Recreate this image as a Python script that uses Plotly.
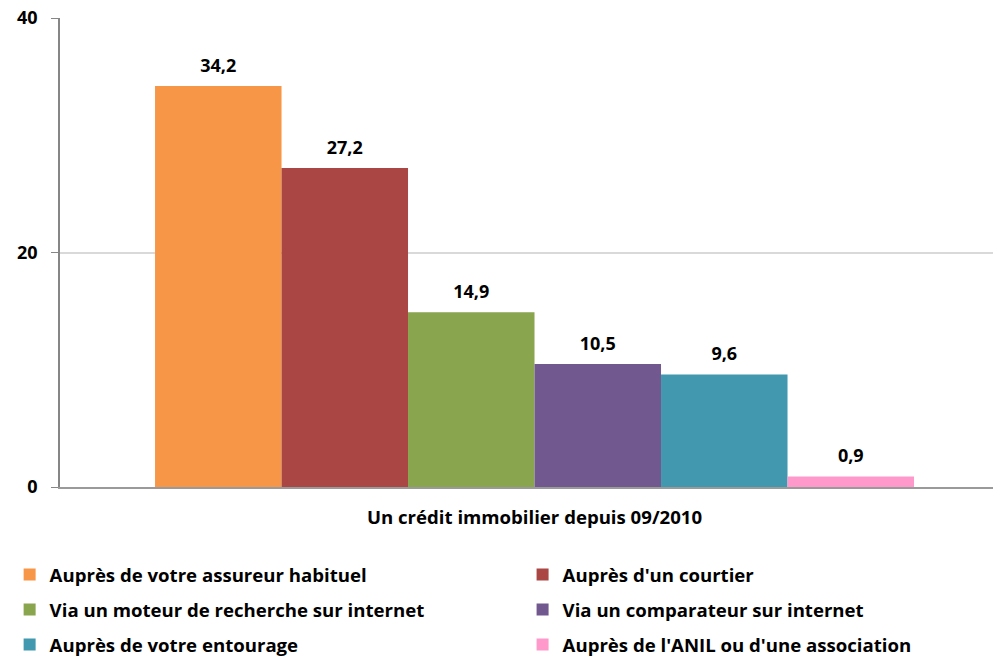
import plotly.graph_objects as go

categorie = ["Un crédit immobilier depuis 09/2010"]
series = [
    "Auprès de votre assureur habituel",
    "Auprès d'un courtier",
    "Via un moteur de recherche sur internet",
    "Via un comparateur sur internet",
    "Auprès de votre entourage",
    "Auprès de l'ANIL ou d'une association",
]
valeurs = [34.2, 27.2, 14.9, 10.5, 9.6, 0.9]
couleurs = ["#F79646", "#AA4643", "#89A54E", "#71588F", "#4198AF", "#FF99CC"]

police = "Open Sans"
gras = dict(family=police, size=18, color="#000000", weight="bold")
gras_large = dict(gras, size=18.6)

fig = go.Figure()
for i, (nom, v, c) in enumerate(zip(series, valeurs, couleurs)):
    fig.add_trace(go.Bar(
        x=categorie, y=[v], name=nom, marker=dict(color=c, line=dict(width=0)),
        legend="legend" if i == 0 else "legend%d" % (i + 1),
    ))
# étiquettes de valeurs, placées au-dessus de chaque barre
for v in valeurs:
    fig.add_trace(go.Scatter(
        x=categorie, y=[v], mode="markers+text", texttemplate="%{y:.1f}",
        textposition="top center", textfont=gras, cliponaxis=False,
        marker=dict(size=14, opacity=0), showlegend=False, hoverinfo="skip",
    ))

# (colonne, ligne) de chaque entrée de légende
cols_x = [-0.054, 0.4958]
rows_y = [-0.1876, -0.2623, -0.3369]
legs = {}
for i in range(6):
    key = "legend" if i == 0 else "legend%d" % (i + 1)
    legs[key] = dict(orientation="h", x=cols_x[i % 2], y=rows_y[i // 2],
                     xanchor="left", yanchor="middle", bgcolor="rgba(0,0,0,0)",
                     font=gras_large)

fig.update_layout(
    width=995, height=658,
    margin=dict(l=60, r=2, t=18, b=171, autoexpand=False),
    plot_bgcolor="white", paper_bgcolor="white",
    barmode="group", bargap=0.1865, bargroupgap=0,
    scattermode="group", scattergap=0.1865,
    separators=", ",
    font=dict(family=police, color="#000000"),
    showlegend=True,
    xaxis=dict(
        range=[-0.5086, 0.4914], showline=True, linecolor="#9A9A9A", linewidth=2,
        ticks="", tickfont=gras_large, ticklabelstandoff=13,
    ),
    yaxis=dict(
        range=[0, 40], tickvals=[0, 20, 40], showgrid=True, gridcolor="#D9D9D9",
        gridwidth=1.5, showline=True, linecolor="#868686", linewidth=1.5,
        ticks="outside", ticklen=7, tickcolor="#868686",
        tickfont=gras, ticklabelstandoff=10, zeroline=False,
        ticklabeloverflow="allow",
    ),
    **legs,
)

fig.write_html("out.html", config={"displayModeBar": False},
               post_script="document.body.style.margin = '0';")
